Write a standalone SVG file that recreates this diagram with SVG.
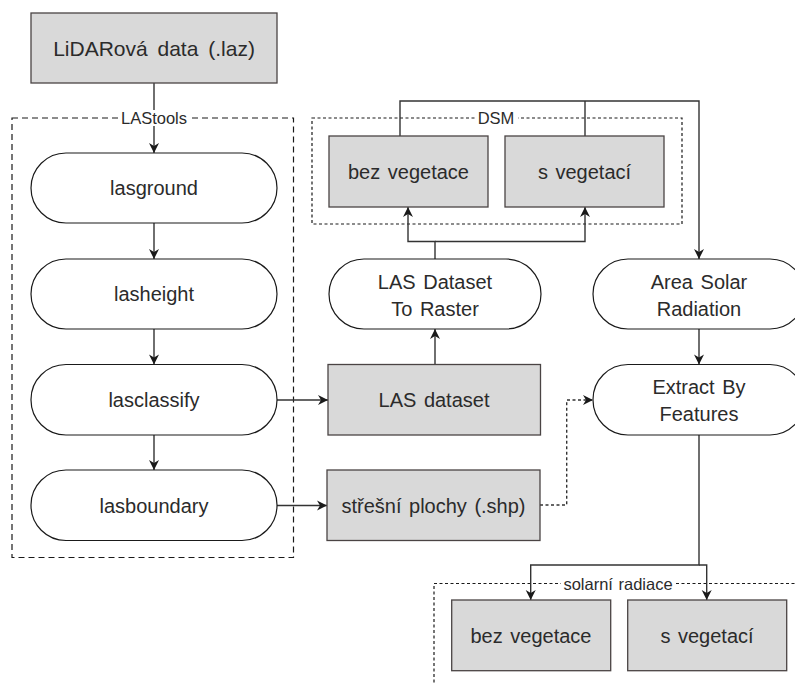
<svg xmlns="http://www.w3.org/2000/svg" width="795" height="683" viewBox="0 0 795 683">
<style>
.box{fill:#d9d9d9;stroke:#4a4444;stroke-width:1.3}
.rnd{fill:#ffffff;stroke:#1a1a1a;stroke-width:1.2}
.t{font-family:"Liberation Sans",Arial,sans-serif;font-size:20px;fill:#2b2b2b;text-anchor:middle;dominant-baseline:central;word-spacing:2px}
.s{font-family:"Liberation Sans",Arial,sans-serif;font-size:16.5px;fill:#2b2b2b;text-anchor:middle;dominant-baseline:central;word-spacing:1px}
.grp{fill:none;stroke:#1a1a1a;stroke-width:1.2}
.c{fill:none;stroke:#333333;stroke-width:1.4}
.a{marker-end:url(#arr)}
.d{stroke-dasharray:3 2.5}
</style>
<defs>
<marker id="arr" viewBox="-11 -6 12 12" refX="0" refY="0" markerWidth="12" markerHeight="12" orient="auto" markerUnits="userSpaceOnUse">
<path d="M0,0 L-10,-5 L-7,0 L-10,5 Z" fill="#1a1a1a"/>
</marker>
</defs>
<rect width="795" height="683" fill="#ffffff"/>

<g id="groups">
<rect id="lastools-group" class="grp" x="12" y="118" width="281.5" height="439.5" stroke-dasharray="6 4"/>
<rect id="dsm-group" class="grp d" x="312" y="118" width="370" height="106"/>
<path id="solar-group" class="grp d" d="M800,583.5 H434 V690"/>
</g>

<g id="connectors">
<path class="c a" d="M154,83 V153"/>
<path class="c a" d="M154,223 V259"/>
<path class="c a" d="M154,329 V364.5"/>
<path class="c a" d="M154,435 V470"/>
<path class="c a" d="M277,400 H328"/>
<path class="c a" d="M277,505.5 H327"/>
<path class="c a" d="M435,364.5 V329"/>
<path class="c a" d="M435,259 V241.5 H408 V207"/>
<path class="c a" d="M435,241.5 H585 V207"/>
<path class="c a" d="M400,136 V101 H699 V259"/>
<path class="c" d="M585,136 V101"/>
<path class="c a" d="M699,329 V364.5"/>
<path class="c a d" d="M540,505 H566.7 V400 H593"/>
<path class="c a" d="M699,435 V565 H530.7 V600"/>
<path class="c a" d="M699,565 H706.7 V600"/>
</g>

<g id="group-labels">
<rect x="119" y="110" width="70" height="16" fill="#ffffff"/>
<text class="s" x="154" y="118">LAStools</text>
<rect x="475" y="110" width="43" height="16" fill="#ffffff"/>
<text class="s" x="496" y="118">DSM</text>
<rect x="561" y="575" width="115" height="17" fill="#ffffff"/>
<text class="s" x="618" y="583.5">solarní radiace</text>
</g>

<g id="lidar"><rect class="box" x="31" y="13" width="246" height="70"/><text class="t" x="154" y="48" style="font-size:21px;word-spacing:4px">LiDARová data (.laz)</text></g>
<g id="lasground"><rect class="rnd" x="31" y="153" width="246" height="70" rx="35"/><text class="t" x="154" y="188">lasground</text></g>
<g id="lasheight"><rect class="rnd" x="31" y="259" width="246" height="70" rx="35"/><text class="t" x="154" y="294">lasheight</text></g>
<g id="lasclassify"><rect class="rnd" x="31" y="364.5" width="246" height="70.5" rx="35"/><text class="t" x="154" y="400">lasclassify</text></g>
<g id="lasboundary"><rect class="rnd" x="31" y="470" width="246" height="70.5" rx="35"/><text class="t" x="154" y="505.5">lasboundary</text></g>

<g id="dsm-bez"><rect class="box" x="329" y="136" width="159" height="71"/><text class="t" x="408.5" y="171.5">bez vegetace</text></g>
<g id="dsm-s"><rect class="box" x="505" y="136" width="159" height="71"/><text class="t" x="584.5" y="171.5">s vegetací</text></g>

<g id="las-to-raster"><rect class="rnd" x="329" y="259" width="212" height="70" rx="35"/><text class="t" x="435" y="281.5">LAS Dataset</text><text class="t" x="435" y="309">To Raster</text></g>
<g id="area-solar"><rect class="rnd" x="593" y="259" width="212" height="70" rx="35"/><text class="t" x="699" y="281.5">Area Solar</text><text class="t" x="699" y="309">Radiation</text></g>

<g id="las-dataset"><rect class="box" x="328" y="364.5" width="212.5" height="70.5"/><text class="t" x="434" y="400">LAS dataset</text></g>
<g id="stresni"><rect class="box" x="327" y="470" width="213" height="70.5"/><text class="t" x="433.5" y="505.5">střešní plochy (.shp)</text></g>

<g id="extract"><rect class="rnd" x="593" y="364.5" width="212" height="70.5" rx="35"/><text class="t" x="699" y="386.5">Extract By</text><text class="t" x="699" y="414">Features</text></g>

<g id="solar-bez"><rect class="box" x="451.7" y="600" width="159" height="70.7"/><text class="t" x="531" y="635.5">bez vegetace</text></g>
<g id="solar-s"><rect class="box" x="627.7" y="600" width="159" height="70.7"/><text class="t" x="707" y="635.5">s vegetací</text></g>
</svg>
